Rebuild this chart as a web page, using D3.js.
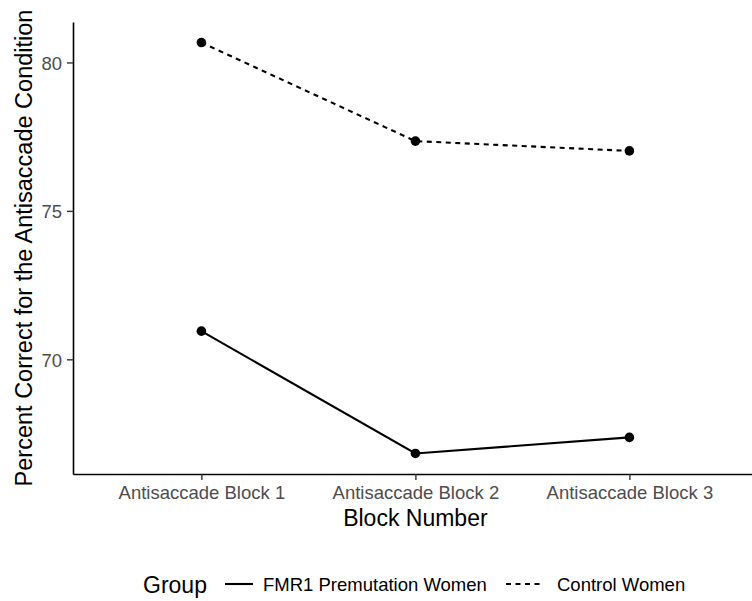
<!DOCTYPE html>
<html>
<head>
<meta charset="utf-8">
<script src="https://cdn.jsdelivr.net/npm/d3@7"></script>
<style>
  html, body { margin: 0; padding: 0; background: #fff; }
  svg { display: block; font-family: "Liberation Sans", Arial, Helvetica, sans-serif; }
</style>
</head>
<body>
<svg id="chart" width="752" height="601"></svg>
<script>
// Mean percent correct per antisaccade block, by group
const blocks = ["Antisaccade Block 1", "Antisaccade Block 2", "Antisaccade Block 3"];
const groups = ["FMR1 Premutation Women", "Control Women"];
const fmr1Values = [70.95, 66.83, 67.37];
const controlValues = [80.67, 77.35, 77.02];
const yTicks = [70, 75, 80];

const series = [
  { name: groups[0], values: fmr1Values, dash: null },
  { name: groups[1], values: controlValues, dash: "5,4.5" }
];

const svg = d3.select("#chart");
const panel = { left: 73, top: 22, bottom: 474 };

// Discrete x axis with ggplot-style 0.6 category padding
const x = d3.scalePoint()
  .domain(blocks)
  .range([panel.left, panel.left + 214 * 3.2])
  .padding(0.6);

// Continuous y axis expanded by 5% of the data range
const all = fmr1Values.concat(controlValues);
const [lo, hi] = d3.extent(all);
const pad = (hi - lo) * 0.05;
const y = d3.scaleLinear()
  .domain([lo - pad, hi + pad])
  .range([panel.bottom, panel.top]);

// Axes
const yAxis = svg.append("g")
  .attr("transform", `translate(${panel.left},0)`)
  .call(d3.axisLeft(y).tickValues(yTicks).tickSize(6).tickSizeOuter(0).tickPadding(5));
const xAxis = svg.append("g")
  .attr("transform", `translate(0,${panel.bottom})`)
  .call(d3.axisBottom(x).tickSize(6).tickSizeOuter(0).tickPadding(6));

[yAxis, xAxis].forEach(g => {
  g.select(".domain").attr("stroke", "#000").attr("stroke-width", 1.6);
  g.selectAll(".tick line").attr("stroke", "#333").attr("stroke-width", 1.4);
  g.selectAll(".tick text")
    .attr("fill", "#4d4d4d")
    .style("font-size", "18.5px")
    .style("font-family", "'Liberation Sans', Arial, sans-serif");
});
xAxis.selectAll(".tick text").attr("dy", "0.71em");
yAxis.selectAll(".tick text").attr("dy", "0.36em");

// Axis titles
svg.append("text")
  .attr("x", x(blocks[1]))
  .attr("y", 526)
  .attr("text-anchor", "middle")
  .style("font-size", "23px")
  .attr("fill", "#000")
  .text("Block Number");

svg.append("text")
  .attr("transform", `translate(32,${(panel.top + panel.bottom) / 2}) rotate(-90)`)
  .attr("text-anchor", "middle")
  .style("font-size", "23.5px")
  .attr("fill", "#000")
  .text("Percent Correct for the Antisaccade Condition");

// Lines and points
const line = d3.line()
  .x((d, i) => x(blocks[i]))
  .y(d => y(d));

const seriesG = svg.append("g");
series.forEach(s => {
  seriesG.append("path")
    .datum(s.values)
    .attr("fill", "none")
    .attr("stroke", "#000")
    .attr("stroke-width", 2.1)
    .attr("stroke-dasharray", s.dash)
    .attr("d", line);
  seriesG.selectAll(null)
    .data(s.values)
    .join("circle")
    .attr("cx", (d, i) => x(blocks[i]))
    .attr("cy", d => y(d))
    .attr("r", 4.8)
    .attr("fill", "#000");
});

// Legend
const legend = svg.append("g");
legend.append("text")
  .attr("x", 143).attr("y", 593)
  .style("font-size", "23px")
  .attr("fill", "#000")
  .text("Group");

const legendItems = [
  { name: groups[0], dash: null, x1: 225, x2: 253, tx: 263 },
  { name: groups[1], dash: "5,4.5", x1: 506, x2: 541, tx: 557 }
];
legendItems.forEach(it => {
  legend.append("line")
    .attr("x1", it.x1).attr("x2", it.x2)
    .attr("y1", 584).attr("y2", 584)
    .attr("stroke", "#000")
    .attr("stroke-width", 2.1)
    .attr("stroke-dasharray", it.dash);
  legend.append("text")
    .attr("x", it.tx).attr("y", 590.5)
    .style("font-size", "18.5px")
    .attr("fill", "#000")
    .text(it.name);
});
</script>
</body>
</html>
